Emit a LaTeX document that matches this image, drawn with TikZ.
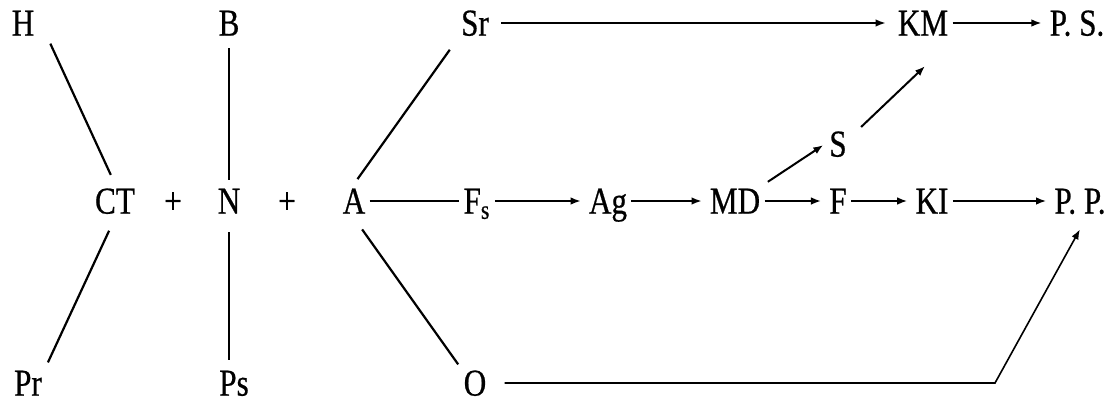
\documentclass[tikz,border=0pt]{standalone}
\usepackage{fontspec}
\setmainfont{Liberation Serif}[FakeStretch=0.82,FakeBold=0.6]
\usetikzlibrary{arrows.meta}
\tikzset{
  term/.style={inner sep=2pt, text height=12.6pt, text depth=0pt, font=\fontsize{19}{22}\selectfont},
  link/.style={line width=1.1pt, black},
  joinline/.style={line width=0.75pt, black},
  flow/.style={-{Latex[length=5pt,width=3.8pt]}, line width=0.8pt, black}
}
\begin{document}
\begin{tikzpicture}[x=0.5pt,y=-0.5pt]
  \useasboundingbox (0,0) rectangle (1117,402);
  \node[term] (H) at (23,23){H};
  \node[term] (B) at (229,23){B};
  \node[term] (Sr) at (475,23){Sr};
  \node[term] (KM) at (923,23){KM};
  \node[term] (PS) at (1077,23){P. S.};
  \node[term] (S) at (838,144){S};
  \node[term] (CT) at (115,201){CT};
  \node[term] (plusA) at (173,201){+};
  \node[term] (N) at (229,201){N};
  \node[term] (plusB) at (287,201){+};
  \node[term] (A) at (354,201){A};
  \node[term] (Fs) at (477,201){F\textsubscript{s}};
  \node[term] (Ag) at (608,201){Ag};
  \node[term] (MD) at (735,201){MD};
  \node[term] (F) at (838,201){F};
  \node[term] (KI) at (932,201){KI};
  \node[term] (PP) at (1080,201){P. P.};
  \node[term] (Pr) at (28,383){Pr};
  \node[term] (Ps) at (234,383){Ps};
  \node[term] (O) at (475,383){O};
  \coordinate (bend) at (995,383);
  \draw[link, shorten <=2pt, shorten >=5pt] ([xshift=5pt]H.south east) -- (CT.north);
  \draw[joinline, shorten <=4pt, shorten >=2pt] (B) -- (N);
  \draw[link, shorten <=6pt, shorten >=3pt] (Sr.south west) -- (A.north);
  \draw[link, shorten <=7pt, shorten >=2pt] (CT.south) -- (Pr.north east);
  \draw[joinline, shorten <=7pt, shorten >=3pt] (N) -- (N |- Ps.north);
  \draw[link, shorten <=7pt, shorten >=1pt] (A.south) -- (O.north west);
  \draw[flow, shorten <=4pt, shorten >=4pt] (Sr) -- (KM);
  \draw[flow, shorten >=2pt] (KM) -- (PS);
  \draw[joinline] (A) -- (Fs);
  \draw[flow, shorten >=2pt] (Fs) -- (Ag);
  \draw[flow, shorten >=2pt] (Ag) -- (MD);
  \draw[flow, shorten >=2pt] (MD) -- (F);
  \draw[flow, shorten >=2pt] (F) -- (KI);
  \draw[flow, shorten >=2pt] (KI) -- (PP);
  \draw[flow, line width=1pt, shorten <=2pt, shorten >=1pt] (MD.north east) -- (S.west);
  \draw[flow, line width=1pt, shorten >=19pt] ([xshift=5pt]S.north east) -- (KM.south east);
  \draw[flow, shorten <=7pt, shorten >=6.5pt] (O) -- (bend) -- (PP.-70);
\end{tikzpicture}
\end{document}
